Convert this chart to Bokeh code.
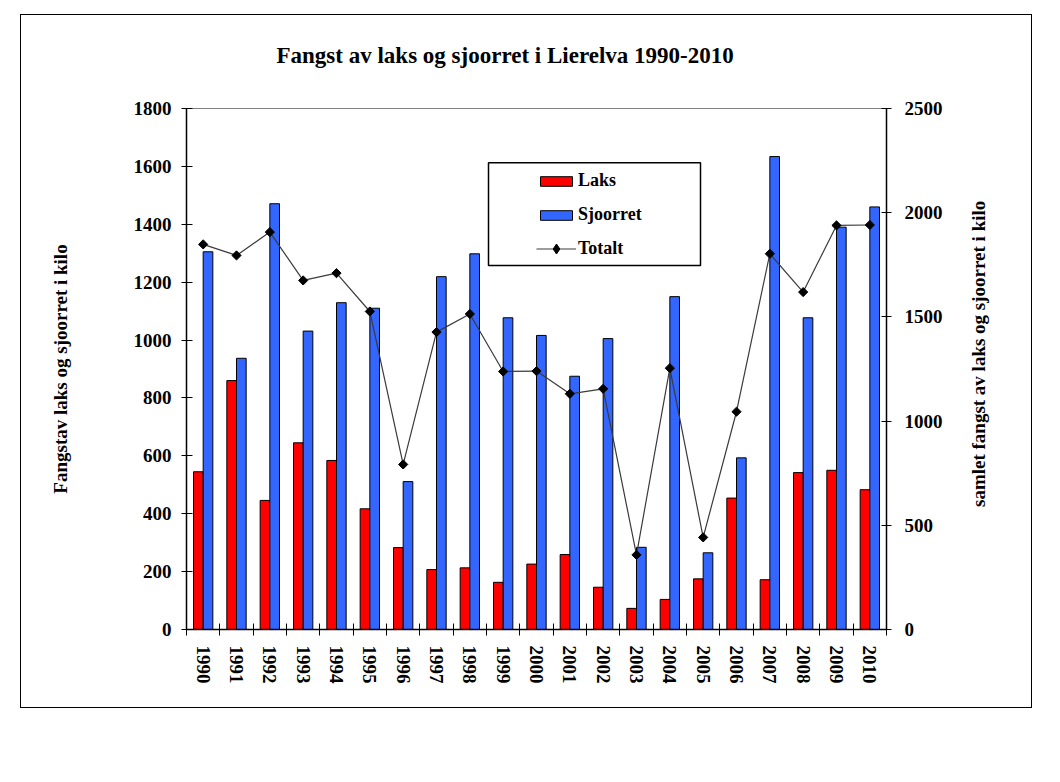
import math
import numpy as np
from bokeh.plotting import figure
from bokeh.models import (Range1d, LinearAxis, FixedTicker, Legend, LegendItem,
                          BoxAnnotation, Label)
from bokeh.embed import file_html
from bokeh.resources import INLINE

# ---- data ----
years = list(range(1990, 2011))
laks = [545, 860, 446, 645, 584, 417, 283, 207, 213, 163, 226,
        259, 146, 73, 104, 175, 454, 172, 542, 550, 483]
sjoorret = [1305, 937, 1471, 1031, 1129, 1110, 511, 1219, 1298, 1077, 1016,
            875, 1005, 284, 1150, 265, 593, 1634, 1077, 1390, 1460]
totalt = [1848, 1795, 1907, 1675, 1710, 1526, 792, 1427, 1514, 1238, 1240,
          1131, 1155, 358, 1254, 442, 1045, 1803, 1619, 1939, 1941]
left_ticks = [0, 200, 400, 600, 800, 1000, 1200, 1400, 1600, 1800]
right_ticks = [0, 500, 1000, 1500, 2000, 2500]

title_text = "Fangst av laks og sjoorret i Lierelva 1990-2010"
left_label = "Fangstav laks og sjoorret i kilo"
right_label = "samlet fangst av laks  og sjoorret i kilo"

FONT = "Liberation Serif"

p = figure(width=1010, height=692, output_backend="svg", toolbar_location=None,
           x_range=Range1d(years[0] - 0.5, years[-1] + 0.5),
           y_range=Range1d(0, 1800),
           min_border_left=165, min_border_right=145,
           min_border_top=93, min_border_bottom=78,
           styles={"margin-left": "21px", "margin-top": "15px",
                   "outline": "1px solid black"})
p.extra_y_ranges = {"tot": Range1d(0, 2500)}
p.background_fill_color = "white"
p.border_fill_color = "white"
p.outline_line_color = "#808080"
p.outline_line_width = 1
p.xgrid.visible = False
p.ygrid.visible = False

# invisible spacer axis above the frame (pushes the title upward)
spacer = LinearAxis(ticker=FixedTicker(ticks=[years[0]]), axis_line_color=None,
                    major_tick_line_color="white", major_tick_line_alpha=0.001,
                    minor_tick_line_color=None,
                    major_tick_in=0, major_tick_out=31, minor_tick_in=0,
                    minor_tick_out=0, major_label_standoff=0,
                    major_label_overrides={years[0]: ""})
p.add_layout(spacer, "above")

# title
p.title.text = title_text
p.title.text_font = FONT
p.title.text_font_style = "bold"
p.title.text_font_size = "23px"
p.title.text_color = "black"
p.title.align = "left"
p.title.offset = 90
p.title.standoff = 20

# x axis
xa = p.below[0]
xa.ticker = FixedTicker(ticks=years, minor_ticks=[y - 0.5 for y in years] + [years[-1] + 0.5])
xa.major_tick_in = 0
xa.major_tick_out = 0
xa.minor_tick_in = 6
xa.minor_tick_out = 6
xa.minor_tick_line_color = "black"
xa.axis_line_color = "black"
xa.axis_line_width = 1.5
xa.major_label_orientation = -math.pi / 2
xa.major_label_standoff = 10
xa.major_label_text_font = FONT
xa.major_label_text_font_style = "bold"
xa.major_label_text_font_size = "19px"
xa.major_label_text_color = "black"

# left axis
ya = p.left[0]
ya.ticker = FixedTicker(ticks=left_ticks)
ya.major_tick_in = 6
ya.major_tick_out = 5
ya.minor_tick_line_color = None
ya.axis_line_color = "black"
ya.axis_line_width = 1.5
ya.major_label_standoff = 10
ya.major_label_text_font = FONT
ya.major_label_text_font_style = "bold"
ya.major_label_text_font_size = "19px"
ya.major_label_text_color = "black"
ya.axis_label = left_label
ya.axis_label_standoff = 60
ya.axis_label_text_font = FONT
ya.axis_label_text_font_style = "bold"
ya.axis_label_text_font_size = "19px"
ya.axis_label_text_color = "black"

# right axis
ra = LinearAxis(y_range_name="tot", ticker=FixedTicker(ticks=right_ticks))
ra.major_tick_in = 5
ra.major_tick_out = 5
ra.minor_tick_line_color = None
ra.axis_line_color = "black"
ra.axis_line_width = 1.5
ra.major_label_standoff = 13
ra.major_label_text_font = FONT
ra.major_label_text_font_style = "bold"
ra.major_label_text_font_size = "19px"
ra.major_label_text_color = "black"
p.add_layout(ra, "right")

# right axis title, reading bottom-to-top, placed in the right side panel
rlab = Label(x=2013.26, y=1334, y_range_name="tot", text=right_label,
             angle=math.pi / 2, text_align="center", text_baseline="middle",
             text_font=FONT, text_font_style="bold", text_font_size="19px",
             text_color="black")
p.add_layout(rlab, "right")

# glyphs
yr = np.array(years, dtype=float)
r_laks = p.vbar(x=yr - 0.145, top=laks, width=0.29, fill_color="#FF0000",
                line_color="black", line_width=1)
r_sjo = p.vbar(x=yr + 0.145, top=sjoorret, width=0.29, fill_color="#3366FF",
               line_color="black", line_width=1)
r_line = p.line(years, totalt, y_range_name="tot", line_color="#3a3a3a", line_width=1.2)
r_pts = p.scatter(years, totalt, y_range_name="tot", marker="square", angle=math.pi / 4,
                  size=6.5, fill_color="black", line_color="black")
# diamond glyph used only for the legend swatch
r_leg = p.scatter(years, totalt, y_range_name="tot", marker="diamond",
                  fill_color="black", line_color="black", visible=False)

# legend frame
box = BoxAnnotation(left=1998.56, right=2004.92, bottom=1258, top=1613,
                    fill_color="white", fill_alpha=1.0, line_color="black",
                    line_alpha=1.0, line_width=1.5, line_dash="solid")
p.add_layout(box)

common = dict(orientation="vertical", border_line_alpha=0, background_fill_alpha=0,
              padding=0, margin=0, glyph_width=40, label_height=20, label_standoff=2,
              label_text_font=FONT, label_text_font_style="bold",
              label_text_font_size="18px", label_text_color="black")
legend1 = Legend(items=[LegendItem(label="Laks", renderers=[r_laks]),
                        LegendItem(label="Sjoorret", renderers=[r_sjo])],
                 location=(350, 404), spacing=13, glyph_height=12, **common)
legend2 = Legend(items=[LegendItem(label="Totalt", renderers=[r_line, r_leg])],
                 location=(350, 368), spacing=0, glyph_height=25, **common)
p.add_layout(legend1)
p.add_layout(legend2)

open("out.html", "w").write(file_html(p, INLINE))
